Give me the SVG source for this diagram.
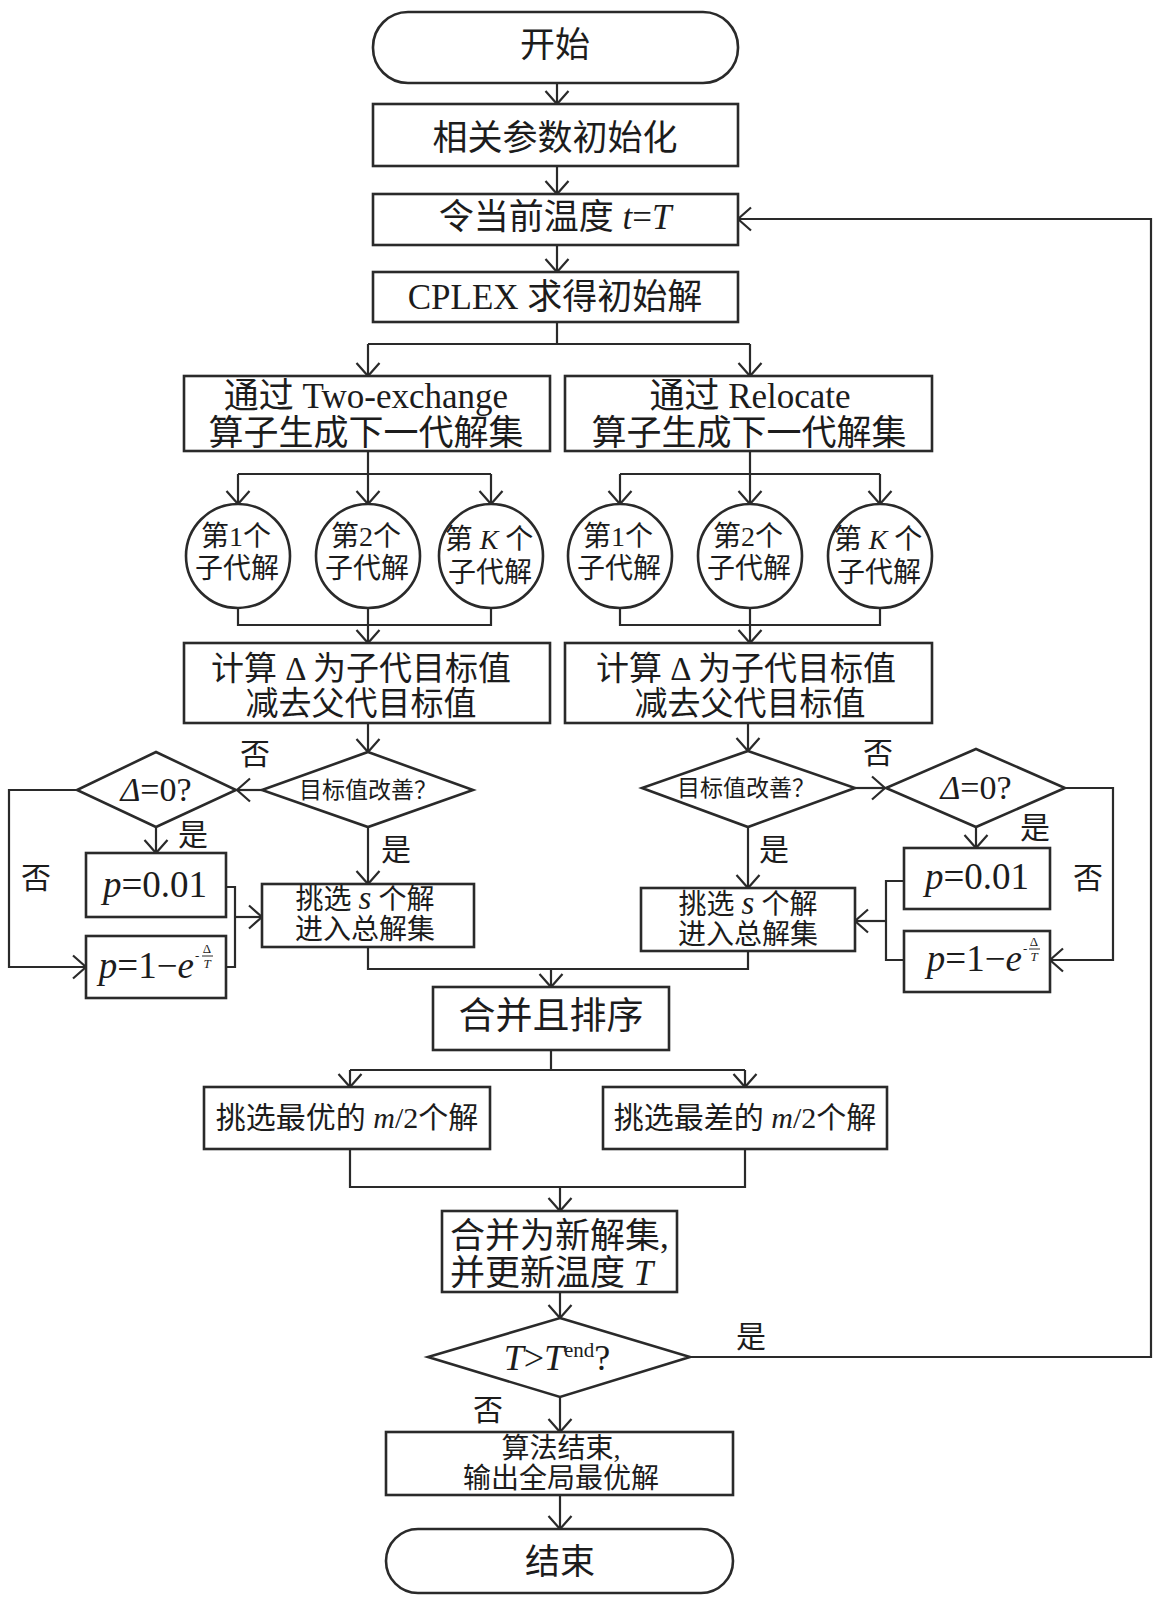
<svg xmlns="http://www.w3.org/2000/svg" width="1160" height="1600" viewBox="0 0 1160 1600">
<defs>
<marker id="arr" markerUnits="userSpaceOnUse" viewBox="0 0 16 26" markerWidth="16" markerHeight="26" refX="14" refY="13" orient="auto">
<path d="M1,1.5 L14,13 L1,24.5" fill="none" stroke="#2a2a2a" stroke-width="2.2"/>
</marker>
<style>
.bx{fill:#fff;stroke:#2a2a2a;stroke-width:2.6}
.ln{fill:none;stroke:#2a2a2a;stroke-width:2.2}
.ar{fill:none;stroke:#2a2a2a;stroke-width:2.2;marker-end:url(#arr)}
text{font-family:"Liberation Serif","Noto Sans CJK SC",serif;fill:#1c1c1c}
.m{font-size:35px;text-anchor:middle}
.m2{font-size:33px;text-anchor:middle}
.c{font-size:28px;text-anchor:middle}
.d{font-size:23px;text-anchor:middle}
.s{font-size:28px;text-anchor:middle}
.s2{font-size:30px;text-anchor:middle}
.p{font-size:37px}
.lb{font-size:30px;text-anchor:middle}
.sm{font-size:13px;text-anchor:middle}
.i{font-style:italic}
.big{font-size:33px}
</style>
</defs>
<rect width="1160" height="1600" fill="#fff"/>

<g id="connectors">
<path class="ar" d="M557,83 V104"/>
<path class="ar" d="M557,166 V194"/>
<path class="ar" d="M557,245 V272"/>
<path class="ln" d="M557,322 V344 M368,344 H750"/>
<path class="ar" d="M368,344 V376"/>
<path class="ar" d="M750,344 V376"/>
<path class="ln" d="M368,451 V474 M238,474 H491"/>
<path class="ar" d="M238,474 V504"/>
<path class="ar" d="M368,474 V504"/>
<path class="ar" d="M491,474 V504"/>
<path class="ln" d="M238,608 V625 H491 V608"/>
<path class="ar" d="M368,608 V643"/>
<path class="ln" d="M750,451 V474 M620,474 H880"/>
<path class="ar" d="M620,474 V504"/>
<path class="ar" d="M750,474 V504"/>
<path class="ar" d="M880,474 V504"/>
<path class="ln" d="M620,608 V625 H880 V608"/>
<path class="ar" d="M750,608 V643"/>
<path class="ar" d="M368,723 V752"/>
<path class="ar" d="M748,723 V751"/>
<path class="ar" d="M262,790 H237"/>
<path class="ar" d="M156,827 V853"/>
<path class="ar" d="M77,790 H9 V967 H86"/>
<path class="ln" d="M226,887 H235 V967 H226"/>
<path class="ar" d="M235,917 H262"/>
<path class="ar" d="M368,827 V884"/>
<path class="ar" d="M855,788 H885"/>
<path class="ar" d="M976,827 V848"/>
<path class="ar" d="M1065,788 H1113 V960 H1050"/>
<path class="ln" d="M904,881 H886 V960 H904"/>
<path class="ar" d="M886,921 H855"/>
<path class="ar" d="M748,827 V888"/>
<path class="ln" d="M368,947 V969 H748 V951"/>
<path class="ar" d="M551,969 V987"/>
<path class="ln" d="M551,1050 V1070 M350,1070 H745"/>
<path class="ar" d="M350,1070 V1087"/>
<path class="ar" d="M745,1070 V1087"/>
<path class="ln" d="M350,1149 V1187 H745 V1149"/>
<path class="ar" d="M560,1187 V1211"/>
<path class="ar" d="M560,1292 V1318"/>
<path class="ar" d="M690,1357 H1151 V219 H738"/>
<path class="ar" d="M560,1397 V1432"/>
<path class="ar" d="M560,1495 V1529"/>
</g>

<g id="labels">
<text class="lb" x="255" y="764">否</text>
<text class="lb" x="193" y="845">是</text>
<text class="lb" x="396" y="860">是</text>
<text class="lb" x="36" y="888">否</text>
<text class="lb" x="878" y="763">否</text>
<text class="lb" x="1035" y="838">是</text>
<text class="lb" x="774" y="860">是</text>
<text class="lb" x="1088" y="888">否</text>
<text class="lb" x="751" y="1347">是</text>
<text class="lb" x="488" y="1420">否</text>
</g>

<g id="start">
<rect class="bx" x="373" y="12" width="365" height="71" rx="35"/>
<text class="m" x="555" y="57">开始</text>
</g>
<g id="init">
<rect class="bx" x="373" y="104" width="365" height="62"/>
<text class="m" x="555" y="150">相关参数初始化</text>
</g>
<g id="temp">
<rect class="bx" x="373" y="194" width="365" height="51"/>
<text class="m" x="555" y="229">令当前温度 <tspan class="i">t</tspan>=<tspan class="i">T</tspan></text>
</g>
<g id="cplex">
<rect class="bx" x="373" y="272" width="365" height="50"/>
<text class="m" x="555" y="309">CPLEX 求得初始解</text>
</g>

<g id="twoexchange">
<rect class="bx" x="184" y="376" width="366" height="75"/>
<text class="m" x="366" y="408">通过 Two-exchange</text>
<text class="m" x="366" y="445">算子生成下一代解集</text>
</g>
<g id="relocate">
<rect class="bx" x="565" y="376" width="367" height="75"/>
<text class="m" x="750" y="408">通过 Relocate</text>
<text class="m" x="749" y="445">算子生成下一代解集</text>
</g>

<g id="L1"><circle class="bx" cx="238" cy="556" r="52"/><text class="c" x="236" y="546">第1个</text><text class="c" x="237" y="578">子代解</text></g>
<g id="L2"><circle class="bx" cx="368" cy="556" r="52"/><text class="c" x="366" y="546">第2个</text><text class="c" x="367" y="578">子代解</text></g>
<g id="LK"><circle class="bx" cx="491" cy="556" r="52"/><text class="c" x="489" y="549">第 <tspan class="i">K</tspan> 个</text><text class="c" x="490" y="582">子代解</text></g>
<g id="R1"><circle class="bx" cx="620" cy="556" r="52"/><text class="c" x="618" y="546">第1个</text><text class="c" x="619" y="578">子代解</text></g>
<g id="R2"><circle class="bx" cx="750" cy="556" r="52"/><text class="c" x="748" y="546">第2个</text><text class="c" x="749" y="578">子代解</text></g>
<g id="RK"><circle class="bx" cx="880" cy="556" r="52"/><text class="c" x="878" y="549">第 <tspan class="i">K</tspan> 个</text><text class="c" x="879" y="582">子代解</text></g>

<g id="deltaL">
<rect class="bx" x="184" y="643" width="366" height="80"/>
<text class="m2" x="361" y="680">计算 Δ 为子代目标值</text>
<text class="m2" x="361" y="715">减去父代目标值</text>
</g>
<g id="deltaR">
<rect class="bx" x="565" y="643" width="367" height="80"/>
<text class="m2" x="746" y="680">计算 Δ 为子代目标值</text>
<text class="m2" x="750" y="715">减去父代目标值</text>
</g>

<g id="improveL">
<polygon class="bx" points="368,752 473,790 368,827 262,790"/>
<text class="d" x="368" y="798">目标值改善？</text>
</g>
<g id="zeroL">
<polygon class="bx" points="156,752 236,790 156,827 77,790"/>
<text x="156" y="801" style="font-size:34px;text-anchor:middle"><tspan class="i">Δ</tspan>=0?</text>
</g>
<g id="p001L">
<rect class="bx" x="86" y="853" width="140" height="64"/>
<text class="p" x="155" y="897" text-anchor="middle"><tspan class="i">p</tspan>=0.01</text>
</g>
<g id="pexpL">
<rect class="bx" x="86" y="936" width="140" height="62"/>
<text class="p" x="194" y="978" text-anchor="end"><tspan class="i">p</tspan>=1−<tspan class="i">e</tspan></text>
<text x="195" y="960" style="font-size:13px">-</text>
<text class="sm" x="207" y="953">Δ</text>
<path d="M202,956 H213" stroke="#2a2a2a" stroke-width="1"/>
<text class="sm i" x="207" y="968">T</text>
</g>
<g id="selectL">
<rect class="bx" x="262" y="884" width="212" height="63"/>
<text class="s" x="365" y="909">挑选 <tspan class="i big">s</tspan> 个解</text>
<text class="s" x="365" y="939">进入总解集</text>
</g>

<g id="improveR">
<polygon class="bx" points="748,751 855,788 748,827 642,788"/>
<text class="d" x="746" y="796">目标值改善？</text>
</g>
<g id="zeroR">
<polygon class="bx" points="976,749 1065,788 976,827 886,788"/>
<text x="976" y="799" style="font-size:34px;text-anchor:middle"><tspan class="i">Δ</tspan>=0?</text>
</g>
<g id="p001R">
<rect class="bx" x="904" y="848" width="146" height="61"/>
<text class="p" x="977" y="889" text-anchor="middle"><tspan class="i">p</tspan>=0.01</text>
</g>
<g id="pexpR">
<rect class="bx" x="904" y="931" width="146" height="61"/>
<text class="p" x="1022" y="971" text-anchor="end"><tspan class="i">p</tspan>=1−<tspan class="i">e</tspan></text>
<text x="1023" y="953" style="font-size:13px">-</text>
<text class="sm" x="1034" y="946">Δ</text>
<path d="M1029,949 H1040" stroke="#2a2a2a" stroke-width="1"/>
<text class="sm i" x="1034" y="961">T</text>
</g>
<g id="selectR">
<rect class="bx" x="641" y="888" width="214" height="63"/>
<text class="s" x="748" y="914">挑选 <tspan class="i big">s</tspan> 个解</text>
<text class="s" x="748" y="944">进入总解集</text>
</g>

<g id="mergeSort">
<rect class="bx" x="433" y="987" width="236" height="63"/>
<text x="551" y="1029" style="font-size:37px;text-anchor:middle">合并且排序</text>
</g>
<g id="best">
<rect class="bx" x="204" y="1087" width="286" height="62"/>
<text class="s2" x="347" y="1128">挑选最优的 <tspan class="i">m</tspan>/2个解</text>
</g>
<g id="worst">
<rect class="bx" x="603" y="1087" width="284" height="62"/>
<text class="s2" x="745" y="1128">挑选最差的 <tspan class="i">m</tspan>/2个解</text>
</g>
<g id="newset">
<rect class="bx" x="442" y="1211" width="235" height="81"/>
<text x="450" y="1248" style="font-size:35px">合并为新解集,</text>
<text x="450" y="1285" style="font-size:35px">并更新温度 <tspan class="i">T</tspan></text>
</g>
<g id="check">
<polygon class="bx" points="560,1318 690,1357 560,1397 428,1357"/>
<text x="557" y="1370" style="font-size:36px;text-anchor:middle"><tspan class="i">T</tspan>&gt;<tspan class="i">T</tspan><tspan style="font-size:21px" dy="-13">end</tspan><tspan dy="13">?</tspan></text>
</g>
<g id="finish">
<rect class="bx" x="386" y="1432" width="347" height="63"/>
<text class="s" x="561" y="1458">算法结束,</text>
<text class="s" x="561" y="1488">输出全局最优解</text>
</g>
<g id="end">
<rect class="bx" x="386" y="1529" width="347" height="64" rx="32"/>
<text class="m" x="560" y="1574">结束</text>
</g>
</svg>
